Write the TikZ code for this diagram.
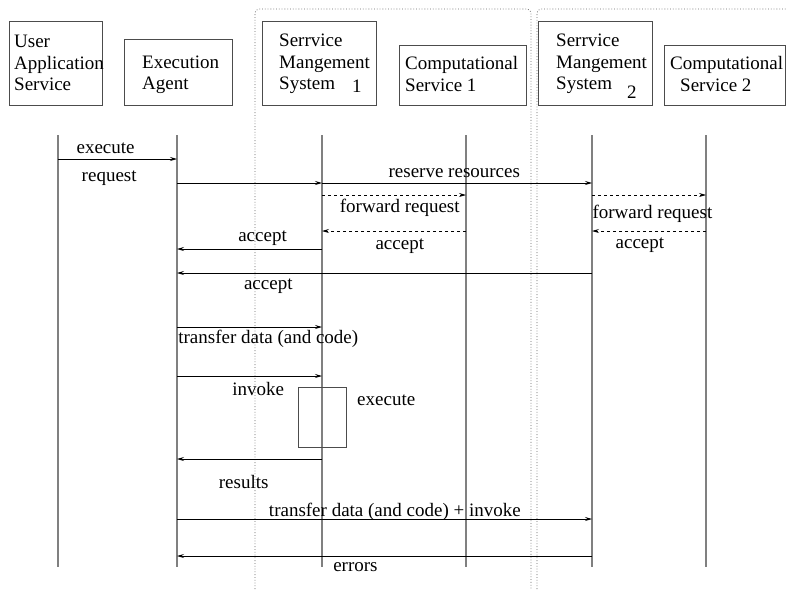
\documentclass[tikz,border=0pt]{standalone}
\usepackage{fontspec}
\setmainfont{Liberation Serif}
\usepackage{tikz}
\usetikzlibrary{arrows.meta,positioning}

\begin{document}
\begin{tikzpicture}[x=1pt, y=-1pt, >={Stealth[length=7pt,width=4pt,inset=2.5pt]},
  font=\fontsize{19}{21.5}\selectfont,
  obj/.style={draw=black!70, line width=1pt, inner sep=0pt},
  txt/.style={align=left, inner sep=0pt, anchor=west},
  life/.style={draw=black!50, line width=1.5pt},
  sig/.style={->, line width=0.7pt},
  rep/.style={sig, dashed},
  lbl/.style={anchor=base, inner sep=0pt},
  grp/.style={draw=black!60, dotted, line width=0.8pt, rounded corners=4pt}]
\useasboundingbox (0,0) rectangle (786,589);

% the two domains
\draw[grp] (255,589) -- (255,9) -- (531,9) -- (531,589);
\draw[grp] (537,589) -- (537,9) -- (790,9);

% participants
\node[obj, minimum width=93pt, minimum height=84pt] (uas) at (55.5,63) {};
\node[txt] (uast) at (14,63) {User\\Application\\Service};
\node[obj, minimum width=108pt, minimum height=66pt] (ea) at (178,72) {};
\node[txt] (eat) at (142,75) {Execution\\Agent};
\node[obj, minimum width=114pt, minimum height=84pt] (sms1) at (319,63) {};
\node[txt] (sms1t) at (279,64) {Serrvice\\Mangement\\System\hspace{17pt}\raisebox{-3pt}[0pt][0pt]{1}};
\node[obj, minimum width=127pt, minimum height=60pt] (cs1) at (462.5,75) {};
\node[txt] (cs1t) at (405,74) {Computational\\Service 1};
\node[obj, minimum width=114pt, minimum height=84pt] (sms2) at (595,63) {};
\node[txt] (sms2t) at (556,64) {Serrvice\\Mangement\\System\hspace{15pt}\raisebox{-9pt}[0pt][0pt]{2}};
\node[obj, minimum width=121pt, minimum height=60pt] (cs2) at (724.5,75) {};
\node[txt] (cs2t) at (670,74) {Computational\\\hspace*{10pt}Service 2};

% lifelines
\foreach \n/\x in {ua/58, ea/177, sa/322, ca/466, sb/592, cb/706} {
  \coordinate (\n) at (\x,135);
  \draw[life] (\n) -- ++(0,432);
}
% message rows
\foreach \r/\y in {a/159, b/183, c/195, d/231, e/249, f/273, g/327, h/376, i/459, j/519, k/556}
  \coordinate (r\r) at (0,\y);

% messages
\draw[sig] (ua |- ra) -- (ea |- ra) node[lbl, pos=0.4, yshift=6pt] {execute}
  node[lbl, pos=0.43, yshift=-22pt] {request};
\draw[sig] (ea |- rb) -- (sa |- rb);
\draw[sig] (sa |- rb) -- (sb |- rb) node[lbl, pos=0.49, yshift=6pt] {reserve resources};
\draw[rep] (sa |- rc) -- (ca |- rc) node[lbl, pos=0.54, yshift=-17pt] {forward request};
\draw[rep] (sb |- rc) -- (cb |- rc) node[lbl, pos=0.53, yshift=-23pt] {forward request};
\draw[rep] (ca |- rd) -- (sa |- rd) node[lbl, pos=0.46, yshift=-18pt] {accept};
\draw[rep] (cb |- rd) -- (sb |- rd) node[lbl, pos=0.58, yshift=-17pt] {accept};
\draw[sig] (sa |- re) -- (ea |- re) node[lbl, pos=0.41, yshift=8pt] {accept};
\draw[sig] (sb |- rf) -- (ea |- rf) node[lbl, pos=0.78, yshift=-16pt] {accept};
\draw[sig] (ea |- rg) -- (sa |- rg) node[lbl, pos=0, anchor=base west, xshift=1pt, yshift=-16pt] {transfer data (and code)};
\draw[sig] (ea |- rh) -- (sa |- rh) node[lbl, pos=0.56, yshift=-19pt] {invoke};

% execution
\node[obj, minimum width=48pt, minimum height=60pt] (run) at (322,417) {};
\node[lbl, anchor=base west] (runt) at (357,405) {execute};

\draw[sig] (sa |- ri) -- (ea |- ri) node[lbl, pos=0.54, yshift=-29pt] {results};
\draw[sig] (ea |- rj) -- (sb |- rj) node[lbl, pos=0.525, yshift=2.5pt] {transfer data (and code) + invoke};
\draw[sig] (sb |- rk) -- (ea |- rk) node[lbl, pos=0.57, yshift=-15pt] {errors};
\end{tikzpicture}
\end{document}
